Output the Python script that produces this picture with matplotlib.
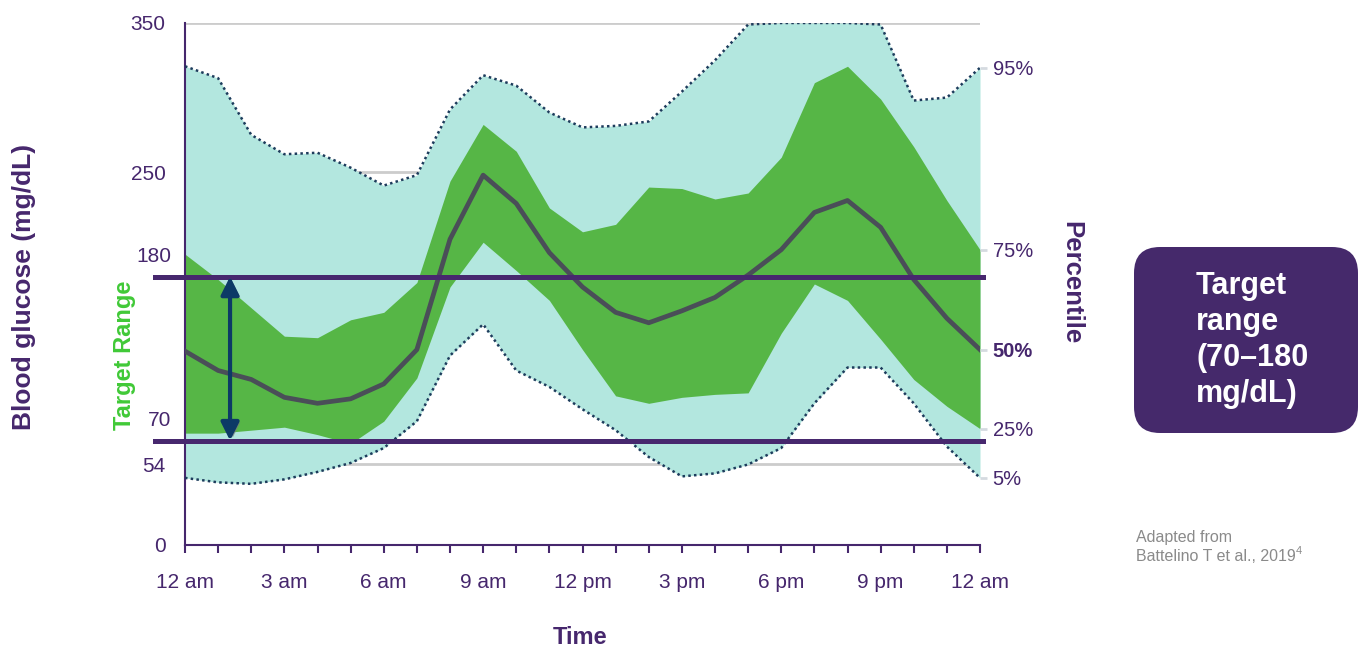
import matplotlib.pyplot as plt
import matplotlib.patheffects as pe
from matplotlib.patches import FancyBboxPatch
from matplotlib.transforms import IdentityTransform

plt.rcParams['font.family'] = ['Liberation Sans', 'DejaVu Sans']

# hourly glucose percentiles (mg/dL)
hours = list(range(25))
p95 = [321, 313, 275, 262, 263, 253, 241, 248, 292, 315, 308, 290, 280, 281, 284,
       304, 325, 349, 350, 350, 350, 349, 298, 300, 320]
p75 = [195, 178, 159, 140, 139, 151, 156, 176, 244, 282, 264, 226, 210, 215, 240,
       239, 232, 236, 260, 310, 321, 299, 267, 231, 198]
p50 = [130, 117, 111, 99, 95, 98, 108, 131, 205, 248, 229, 196, 173, 156, 149,
       157, 166, 181, 198, 223, 231, 213, 178, 152, 131]
p25 = [75, 75, 77, 79, 74, 68, 83, 112, 173, 203, 184, 164, 131, 100, 95,
       99, 101, 102, 142, 175, 164, 138, 111, 93, 78]
p5 = [45, 42, 41, 44, 49, 55, 65, 83, 127, 148, 117, 106, 91, 77, 59,
      46, 48, 54, 65, 95, 119, 119, 95, 66, 45]

target_low = 70
target_high = 180
grid_levels = [54, 250, 350]
y_ticks = [0, 54, 250, 350]
x_ticks = [0, 3, 6, 9, 12, 15, 18, 21, 24]
x_labels = ['12 am', '3 am', '6 am', '9 am', '12 pm', '3 pm', '6 pm', '9 pm', '12 am']
pct_labels = ['95%', '75%', '50%', '25%', '5%']

purple = '#46276d'
navy = '#1d3c5c'

fig = plt.figure(figsize=(13.59, 6.49), dpi=100)
ax = fig.add_axes([185 / 1359, 104 / 649, 795 / 1359, 522 / 649])
ax.set_xlim(0, 24)
ax.set_ylim(0, 350)

for g in grid_levels:
    ax.axhline(g, color='#cccccc', lw=2, zorder=0.5)

ax.fill_between(hours, p5, p95, color='#b3e7df', lw=0, zorder=1)
ax.fill_between(hours, p25, p75, color='#56b646', lw=0, zorder=2)
ax.plot(hours, p95, color=navy, lw=1.8, linestyle=(0, (1, 1.3)), zorder=3)
ax.plot(hours, p5, color=navy, lw=1.8, linestyle=(0, (1, 1.3)), zorder=3)
ax.plot(hours, p50, color='#4a4e58', lw=3.4, zorder=3)

for lvl in [target_high, target_low]:
    ax.axhline(lvl, xmin=-0.038, xmax=1.004, color='#47286e', lw=3.6,
               clip_on=False, zorder=4)

# double arrow showing the target range
ax.annotate('', xy=(1.36, target_high), xytext=(1.36, target_low),
            arrowprops=dict(arrowstyle='<|-|>,head_length=0.9,head_width=0.45',
                            color='#0c3a66', lw=3, mutation_scale=12,
                            shrinkA=0, shrinkB=0,
                            path_effects=[pe.SimplePatchShadow(offset=(2, -1),
                                                               shadow_rgbFace='#777777',
                                                               alpha=0.7),
                                          pe.Normal()]),
            zorder=5)

ax.set_yticks(y_ticks)
ax.set_yticklabels([str(v) for v in y_ticks])
ax.tick_params(axis='y', length=0, pad=14, labelsize=15, labelcolor=purple)
for lvl in [target_high, target_low]:
    ax.annotate(str(lvl), xy=(0, lvl), xycoords=('axes fraction', 'data'),
                xytext=(-14, 20), textcoords='offset pixels', ha='right', va='center',
                fontsize=15, color=purple)

ax.set_xticks(x_ticks)
ax.set_xticklabels(x_labels)
ax.set_xticks(hours, minor=True)
ax.tick_params(axis='x', which='both', length=6, width=1.5, color=purple,
               labelsize=15, labelcolor=purple, pad=14)

for s in ['top', 'right']:
    ax.spines[s].set_visible(False)
for s in ['left', 'bottom']:
    ax.spines[s].set_color(purple)
    ax.spines[s].set_linewidth(1.5)

# percentile axis on the right
ax2 = ax.twinx()
ax2.set_ylim(0, 350)
ax2.set_yticks([p95[-1], p75[-1], p50[-1], p25[-1], p5[-1]])
ax2.set_yticklabels(pct_labels)
ax2.tick_params(axis='y', length=5, width=2, color='#d5dae0', pad=4,
                labelsize=14.5, labelcolor=purple)
for s in ax2.spines.values():
    s.set_visible(False)
ax2.get_yticklabels()[2].set_fontweight('bold')
ax2.yaxis.get_major_ticks()[2].tick2line.set_color(navy)

fig.text(24 / 1359, 1 - 287 / 649, 'Blood glucose (mg/dL)', rotation=90, ha='center',
         va='center', fontsize=19, fontweight='bold', color=purple)
fig.text(125 / 1359, 1 - 355 / 649, 'Target Range', rotation=90, ha='center',
         va='center', fontsize=17, fontweight='bold', color='#40c937')
fig.text(1071 / 1359, 1 - 283 / 649, 'Percentile', rotation=-90, ha='center',
         va='center', fontsize=18.5, fontweight='bold', color=purple)
fig.text(580 / 1359, 1 - 638 / 649, 'Time', ha='center', va='center',
         fontsize=17, fontweight='bold', color=purple)

box = FancyBboxPatch((1134, 216), 224, 186, boxstyle='round,pad=0,rounding_size=26',
                     transform=IdentityTransform(), fc='#45296b', ec='none')
fig.add_artist(box)
fig.text(1196 / 1359, 1 - 340 / 649, 'Target\nrange\n(70\u2013180\nmg/dL)',
         ha='left', va='center', fontsize=22, fontweight='bold', color='white',
         linespacing=1.27)
fig.text(1136 / 1359, 1 - 547 / 649, 'Adapted from\nBattelino T et al., 2019',
         ha='left', va='center', fontsize=11.5, color='#8a8a8a', linespacing=1.3)
fig.text(1296 / 1359, 1 - 551 / 649, '4', ha='left', va='center', fontsize=8,
         color='#8a8a8a')

fig.savefig('out.png', dpi=100)
